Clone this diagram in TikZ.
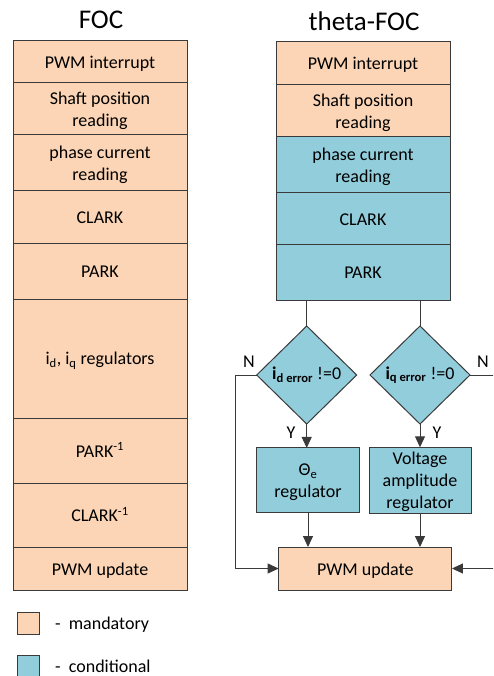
\documentclass[tikz,border=0pt]{standalone}
\usepackage{fontspec}
\setmainfont{Carlito}
\usetikzlibrary{shapes.geometric,arrows.meta}
\definecolor{mandfill}{HTML}{FBD5B5}
\definecolor{condfill}{HTML}{92CDDC}
\definecolor{edge}{HTML}{3A3A3A}
% strut that gives every text line the same height and depth
\newcommand{\ls}{\rule[-4.5pt]{0pt}{22pt}}
\tikzset{
  cell/.style={draw=edge, line width=1pt, inner sep=0pt, outer sep=0pt,
    align=center, font=\fontsize{18}{22}\selectfont},
  mand/.style={cell, fill=mandfill},
  cond/.style={cell, fill=condfill},
  colL/.style={minimum width=174pt},
  decision/.style={diamond, aspect=1, draw=edge, line width=1pt, fill=condfill,
    inner sep=0pt, outer sep=0pt, minimum width=100pt, minimum height=98pt,
    font=\fontsize{18}{22}\selectfont},
  lbl/.style={inner sep=0pt, font=\fontsize{18}{22}\selectfont},
  ttl/.style={inner sep=0pt, anchor=base, font=\fontsize{27}{32}\selectfont},
  conn/.style={draw=edge, line width=1pt},
  arr/.style={conn, -{Triangle[length=11pt,width=10pt]}},
}
\begin{document}
\begin{tikzpicture}[x=1pt,y=-1pt]
\useasboundingbox (0,0) rectangle (493,676);
\clip (0,0) rectangle (493,676);

% column titles
\node[ttl] (tfoc) at (101,29) {FOC};
\node[ttl] (ttheta) at (364,31) {theta-FOC};

% classic FOC sequence
\node[mand, colL, minimum height=42pt]  (l1) at (100,62)    {\ls PWM interrupt};
\node[mand, colL, minimum height=52pt]  (l2) at (100,109)   {\ls Shaft position\\reading\ls};
\node[mand, colL, minimum height=56pt]  (l3) at (100,163)   {\ls phase current\\reading\ls};
\node[mand, colL, minimum height=52pt]  (l4) at (100,217)   {\ls CLARK};
\node[mand, colL, minimum height=56pt]  (l5) at (100,271)   {\ls PARK};
\node[mand, colL, minimum height=119pt] (l6) at (100,358.5) {\ls i\textsubscript{d}, i\textsubscript{q} regulators};
\node[mand, colL, minimum height=65pt]  (l7) at (100,450.5) {\ls PARK\textsuperscript{-1}};
\node[mand, colL, minimum height=64pt]  (l8) at (100,515)   {\ls CLARK\textsuperscript{-1}};
\node[mand, colL, minimum height=43pt]  (l9) at (100,568.5) {\ls PWM update};

% theta-FOC sequence
\node[mand, colL, minimum height=43pt] (r1) at (363,63.5)  {\ls PWM interrupt};
\node[mand, colL, minimum height=52pt] (r2) at (363,111)   {\ls Shaft position\\reading\ls};
\node[cond, colL, minimum height=56pt] (r3) at (363,165)   {\ls phase current\\reading\ls};
\node[cond, colL, minimum height=51pt] (r4) at (363,218.5) {\ls CLARK};
\node[cond, colL, minimum height=56pt] (r5) at (363,272)   {\ls PARK};

% decisions
\node[decision] (dd) at (306.7,375) {\textbf{i\textsubscript{d error}} !=0};
\node[decision] (dq) at (420,375)   {\textbf{i\textsubscript{q error}} !=0};

% regulators
\node[cond, minimum width=102.6pt, minimum height=64.7pt] (rth) at (308,480.3)
  {\ls Θ\textsubscript{e}\\regulator\ls};
\node[cond, minimum width=102pt, minimum height=64.7pt] (rva) at (420,480.3)
  {\ls Voltage\\amplitude\\regulator\ls};

% final PWM update
\node[mand, minimum width=173.3pt, minimum height=43pt] (rpwm) at (365.3,568.5) {\ls PWM update};

% connectors
\draw[conn] (dd.north |- r5.south) -- (dd.north);
\draw[conn] (dq.north |- r5.south) -- (dq.north);
\draw[arr] (dd.south) -- (dd.south |- rth.north);
\draw[arr] (dq.south) -- (dq.south |- rva.north);
\draw[arr] (rth.south) -- (rth.south |- rpwm.north);
\draw[arr] (rva.south) -- (rva.south |- rpwm.north);

\coordinate (nl) at (235,375);
\coordinate (nr) at (497,375);
\draw[arr] (dd.west) -- (nl) |- (rpwm.west);
\draw[arr] (dq.east) -- (nr) |- (rpwm.east);

% branch labels
\node[lbl] (yd) at (291,433) {Y};
\node[lbl] (yq) at (437,433) {Y};
\node[lbl] (nd) at (249,362) {N};
\node[lbl] (nq) at (483,362) {N};

% legend
\node[mand, minimum width=22pt, minimum height=22pt] (keym) at (28,623) {};
\node[lbl, anchor=base west] (keymt) at (55,629) {-\ \ mandatory};
\node[cond, minimum width=22pt, minimum height=22pt] (keyc) at (28,666) {};
\node[lbl, anchor=base west] (keyct) at (55,672) {-\ \ conditional};
\end{tikzpicture}
\end{document}
